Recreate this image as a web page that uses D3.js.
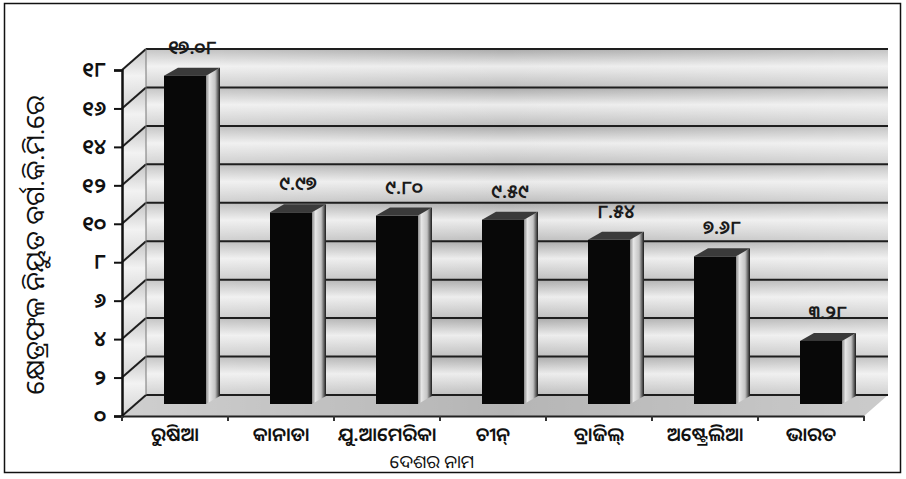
<!DOCTYPE html>
<html>
<head>
<meta charset="utf-8">
<script src="https://cdn.jsdelivr.net/npm/d3@7"></script>
<style>
  body { margin: 0; background: #fff; }
  text { font-family: "Noto Sans Oriya", "Noto Sans Odia", "Lohit Odia", "Noto Sans", sans-serif; }
</style>
</head>
<body>
<svg width="906" height="479"></svg>
<script>
// chart data
var countries = ["ରୁଷିଆ", "କାନାଡା", "ଯୁ.ଆମେରିକା", "ଚୀନ୍", "ବ୍ରାଜିଲ୍", "ଅଷ୍ଟ୍ରେଲିଆ", "ଭାରତ"];
var areas = [17.08, 9.97, 9.80, 9.59, 8.54, 7.68, 3.28];
var yTickValues = [0, 2, 4, 6, 8, 10, 12, 14, 16, 18];
var yTitle = "କ୍ଷେତ୍ରଫଳ ନିୟୁତ ବର୍ଗ.କି.ମି.ରେ";
var xTitle = "ଦେଶର ନାମ";

// western digits -> odia digits
var odia = s => String(s).replace(/[0-9]/g, c => String.fromCharCode(0x0B66 + (+c)));

var svg = d3.select('svg');
var defs = svg.append('defs');

// frame
svg.append('rect').attr('x', 4.5).attr('y', 3.5).attr('width', 896).attr('height', 469)
   .attr('fill', '#fff').attr('stroke', '#111').attr('stroke-width', 1.5);

var plotLeft = 122, plotRight = 864, plotBottom = 416, plotTop = 70;
var wallDx = 24, wallDy = -21;   // depth of back wall
var barDx = 10, barDy = -12;     // where bars stand
var depthDx = 14, depthDy = -8;  // bar depth
var barW = 42;

var x = d3.scaleBand().domain(countries).range([plotLeft, plotRight]);
var y = d3.scaleLinear().domain([0, 18]).range([plotBottom, plotTop]);

// gradients
var wallGrad = defs.append('linearGradient').attr('id', 'band').attr('x1', 0).attr('x2', 0).attr('y1', 0).attr('y2', 1);
wallGrad.append('stop').attr('offset', '0%').attr('stop-color', '#a9a9a9');
wallGrad.append('stop').attr('offset', '45%').attr('stop-color', '#ececec');
wallGrad.append('stop').attr('offset', '100%').attr('stop-color', '#bdbdbd');

var sideGrad = defs.append('linearGradient').attr('id', 'side').attr('x1', 0).attr('x2', 1).attr('y1', 0).attr('y2', 0);
sideGrad.append('stop').attr('offset', '0%').attr('stop-color', '#8a8a8a');
sideGrad.append('stop').attr('offset', '25%').attr('stop-color', '#e6e6e6');
sideGrad.append('stop').attr('offset', '65%').attr('stop-color', '#c4c4c4');
sideGrad.append('stop').attr('offset', '100%').attr('stop-color', '#1a1a1a');

var shadeGrad = defs.append('linearGradient').attr('id', 'shade').attr('x1', 0).attr('x2', 1).attr('y1', 0).attr('y2', 0);
shadeGrad.append('stop').attr('offset', '0%').attr('stop-color', '#fff').attr('stop-opacity', 0.35);
shadeGrad.append('stop').attr('offset', '50%').attr('stop-color', '#fff').attr('stop-opacity', 0);
shadeGrad.append('stop').attr('offset', '100%').attr('stop-color', '#fff').attr('stop-opacity', 0.3);

var g = svg.append('g');

// back wall bands between gridlines
var bands = d3.pairs(yTickValues);
g.selectAll('rect.band').data(bands).enter().append('rect')
  .attr('x', plotLeft + wallDx)
  .attr('y', d => y(d[1]) + wallDy)
  .attr('width', plotRight - plotLeft)
  .attr('height', d => y(d[0]) - y(d[1]))
  .attr('fill', 'url(#band)');

// side wall
g.selectAll('polygon.sideband').data(bands).enter().append('polygon')
  .attr('points', d => [[plotLeft, y(d[1])], [plotLeft + wallDx, y(d[1]) + wallDy],
                        [plotLeft + wallDx, y(d[0]) + wallDy], [plotLeft, y(d[0])]].join(' '))
  .attr('fill', 'url(#band)');

// floor
g.append('polygon')
  .attr('points', [[plotLeft, plotBottom], [plotLeft + wallDx, plotBottom + wallDy],
                   [plotRight + wallDx, plotBottom + wallDy], [plotRight, plotBottom]].join(' '))
  .attr('fill', '#b5b5b5');

g.append('rect').attr('x', plotLeft).attr('y', y(18) + wallDy).attr('width', plotRight - plotLeft + wallDx)
  .attr('height', plotBottom - y(18) - wallDy).attr('fill', 'url(#shade)');

// gridlines
g.selectAll('line.grid').data(yTickValues).enter().append('line')
  .attr('x1', plotLeft + wallDx).attr('x2', plotRight + wallDx)
  .attr('y1', d => y(d) + wallDy).attr('y2', d => y(d) + wallDy)
  .attr('stroke', '#1e1e1e').attr('stroke-width', 2);
g.selectAll('line.slant').data(yTickValues).enter().append('line')
  .attr('x1', plotLeft).attr('x2', plotLeft + wallDx)
  .attr('y1', d => y(d)).attr('y2', d => y(d) + wallDy)
  .attr('stroke', '#1e1e1e').attr('stroke-width', 2);

// back wall left edge
g.append('line').attr('x1', plotLeft + wallDx).attr('x2', plotLeft + wallDx)
  .attr('y1', y(18) + wallDy).attr('y2', plotBottom + wallDy)
  .attr('stroke', '#777').attr('stroke-width', 1);

// bars
var bars = g.selectAll('g.bar').data(countries).enter().append('g');
var bx = d => x(d) + (x.bandwidth() - barW) / 2 + barDx;
var by = (d, i) => y(areas[i]) + barDy;
var b0 = y(0) + barDy;

bars.append('polygon')
  .attr('points', (d, i) => [[bx(d) + barW, by(d, i)], [bx(d) + barW + depthDx, by(d, i) + depthDy],
                             [bx(d) + barW + depthDx, b0 + depthDy], [bx(d) + barW, b0]].join(' '))
  .attr('fill', 'url(#side)');
bars.append('polygon')
  .attr('points', (d, i) => [[bx(d), by(d, i)], [bx(d) + depthDx, by(d, i) + depthDy],
                             [bx(d) + barW + depthDx, by(d, i) + depthDy], [bx(d) + barW, by(d, i)]].join(' '))
  .attr('fill', '#3a3a3a');
bars.append('rect')
  .attr('x', bx).attr('y', by)
  .attr('width', barW).attr('height', (d, i) => b0 - by(d, i))
  .attr('fill', '#080808');

// value labels
bars.append('text')
  .attr('x', d => bx(d) + (barW + depthDx) / 2)
  .attr('y', (d, i) => by(d, i) + depthDy - 14)
  .attr('text-anchor', 'middle')
  .attr('font-size', 19).attr('font-weight', 600).attr('fill', '#1a1a1a')
  .text((d, i) => odia(areas[i].toFixed(2)));

// y axis
var yAxis = d3.axisLeft(y).tickValues(yTickValues).tickSize(8).tickPadding(8).tickFormat(odia);
var ya = svg.append('g').attr('transform', 'translate(' + plotLeft + ',0)').call(yAxis);
ya.select('.domain').attr('stroke', '#111').attr('stroke-width', 2.5);
ya.selectAll('.tick line').attr('stroke', '#111').attr('stroke-width', 2);
ya.selectAll('.tick text').attr('font-size', 21).attr('font-weight', 600).attr('fill', '#111');

// x axis
var xAxis = d3.axisBottom(x).tickSize(0).tickPadding(12);
var xa = svg.append('g').attr('transform', 'translate(0,' + plotBottom + ')').call(xAxis);
xa.select('.domain').attr('stroke', '#222').attr('stroke-width', 2);
xa.selectAll('.tick text').attr('font-size', 19).attr('font-weight', 600).attr('fill', '#111');
xa.selectAll('line.sep').data(d3.range(countries.length + 1)).enter().append('line')
  .attr('x1', i => plotLeft + i * x.step()).attr('x2', i => plotLeft + i * x.step())
  .attr('y1', 0).attr('y2', 5).attr('stroke', '#333').attr('stroke-width', 2);

// titles
svg.append('text')
  .attr('transform', 'translate(44,' + 245 + ') rotate(-90)')
  .attr('text-anchor', 'middle').attr('font-size', 26).attr('fill', '#111')
  .text(yTitle);
svg.append('text')
  .attr('x', 432).attr('y', 468)
  .attr('text-anchor', 'middle').attr('font-size', 18).attr('fill', '#111')
  .text(xTitle);
</script>
</body>
</html>
